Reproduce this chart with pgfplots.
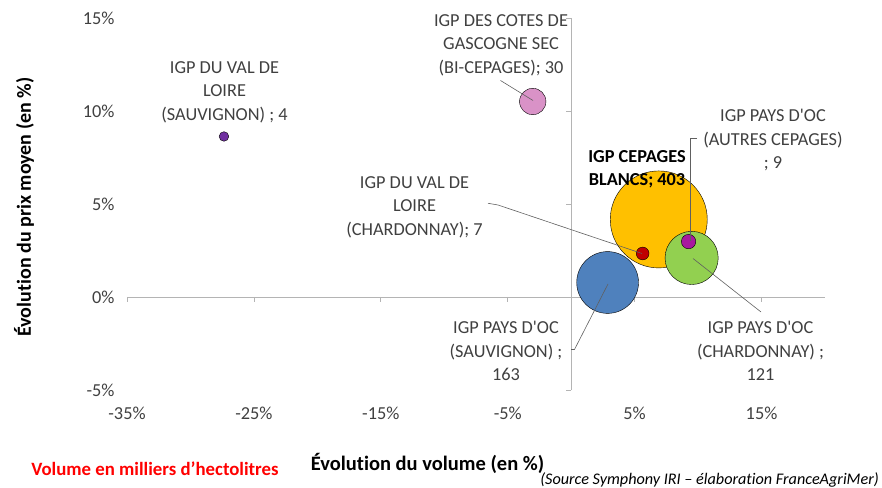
\documentclass[border=0pt]{standalone}
\usepackage{fontspec}
\setmainfont{Carlito}[Ligatures=NoCommon]
\newfontfamily\lblfont{Carlito}[Ligatures=NoCommon]
\usepackage{pgfplots}
\pgfplotsset{compat=1.18}
\definecolor{cOrange}{HTML}{FFC000}
\definecolor{cBlue}{HTML}{4F81BD}
\definecolor{cGreen}{HTML}{92D050}
\definecolor{cMag}{HTML}{A8199E}
\definecolor{cRed}{HTML}{C00000}
\definecolor{cPink}{HTML}{D992C7}
\definecolor{cPurple}{HTML}{7030A0}
\definecolor{axgray}{HTML}{B4B4B4}
\definecolor{txt}{HTML}{404040}
\definecolor{lead}{HTML}{606060}
\newcommand\fs{\fontsize{18.3bp}{23.5bp}\selectfont}
\begin{document}
\begin{tikzpicture}
\begin{axis}[
  scale only axis, width=698bp, height=372bp,
  xmin=-35, xmax=20, ymin=-5, ymax=15,
  axis line style={draw=none},
  major tick length=0pt,
  xtick={-35,-25,-15,-5,5,15},
  xticklabels={{-35\%},{-25\%},{-15\%},{-5\%},{5\%},{15\%}},
  ytick={-5,0,5,10,15},
  yticklabels={{-5\%},{0\%},{5\%},{10\%},{15\%}},
  tick label style={font=\fs, text=txt},
  xticklabel style={yshift=-13.5bp},
  yticklabel style={xshift=-9bp},
  clip=false,
]
\draw[axgray, line width=0.75bp] (axis cs:-35,0) -- (axis cs:20,0);
\draw[axgray, line width=0.75bp] (axis cs:0,-5) -- (axis cs:0,15);
\pgfplotsinvokeforeach{-35,-25,-15,-5,5,15}{\draw[axgray, line width=0.75bp] (axis cs:#1,0) -- ++(0pt,-5bp);}
\pgfplotsinvokeforeach{-5,0,5,10,15}{\draw[axgray, line width=0.75bp] (axis cs:0,#1) -- ++(-5bp,0pt);}
% IGP CEPAGES BLANCS; 403
\addplot[only marks, mark=*, mark size=48.5bp, mark options={draw=none, fill=cOrange}] coordinates {(6.9,4.17)};
% IGP PAYS D'OC (SAUVIGNON); 163
\addplot[only marks, mark=*, mark size=30.9bp, mark options={draw=none, fill=cBlue}] coordinates {(2.87,0.78)};
% IGP PAYS D'OC (CHARDONNAY); 121
\addplot[only marks, mark=*, mark size=26.6bp, mark options={draw=none, fill=cGreen}] coordinates {(9.49,2.10)};
% IGP DES COTES DE GASCOGNE SEC (BI-CEPAGES); 30
\addplot[only marks, mark=*, mark size=13.2bp, mark options={draw=none, fill=cPink}] coordinates {(-3.03,10.51)};
% IGP PAYS D'OC (AUTRES CEPAGES); 9
\addplot[only marks, mark=*, mark size=7.2bp, mark options={draw=none, fill=cMag}] coordinates {(9.25,2.98)};
% IGP DU VAL DE LOIRE (CHARDONNAY); 7
\addplot[only marks, mark=*, mark size=6.4bp, mark options={draw=none, fill=cRed}] coordinates {(5.63,2.34)};
% IGP DU VAL DE LOIRE (SAUVIGNON); 4
\addplot[only marks, mark=*, mark size=4.8bp, mark options={draw=none, fill=cPurple}] coordinates {(-27.36,8.63)};
\end{axis}
\begin{scope}[shift={(current axis.south west)}, shift={(-127bp,390bp)}, x=1bp, y=-1bp]
  % leader lines
  \draw[lead, line width=0.6bp] (500.5,80.5) -- (533,100.5);
  \draw[lead, line width=0.6bp] (488,203.3) -- (498,205) -- (642,253.5);
  \draw[lead, line width=0.6bp] (697,138) -- (690.5,138) -- (690.5,241);
  \draw[lead, line width=0.6bp] (571,349.5) -- (574.5,349.5) -- (608,284);
  \draw[lead, line width=0.6bp] (693,258.5) -- (761,312);
  % data labels
  \node[font=\lblfont\fs, text=txt, align=center, inner sep=0pt] at (501,45) {IGP DES COTES DE\\GASCOGNE SEC\\(BI-CEPAGES); 30};
  \node[font=\lblfont\fs, text=txt, align=center, inner sep=0pt] at (224.5,92) {IGP DU VAL DE\\LOIRE\\(SAUVIGNON) ; 4};
  \node[font=\lblfont\fs, text=txt, align=center, inner sep=0pt] at (414.5,207) {IGP DU VAL DE\\LOIRE\\(CHARDONNAY); 7};
  \node[font=\lblfont\fs\bfseries, text=black, align=center, inner sep=0pt] at (637,169) {IGP CEPAGES\\BLANCS; 403};
  \node[font=\lblfont\fs, text=txt, align=center, inner sep=0pt] at (773,140) {IGP PAYS D'OC\\(AUTRES CEPAGES)\\; 9};
  \node[font=\lblfont\fs, text=txt, align=center, inner sep=0pt] at (506,351) {IGP PAYS D'OC\\(SAUVIGNON) ;\\163};
  \node[font=\lblfont\fs, text=txt, align=center, inner sep=0pt] at (760.5,351) {IGP PAYS D'OC\\(CHARDONNAY) ;\\121};
  % titles
  \node[font=\fontsize{20bp}{24bp}\selectfont\bfseries, text=black, rotate=90, inner sep=0pt] at (24,207) {Évolution du prix moyen (en \%)};
  \node[font=\fontsize{20.5bp}{24bp}\selectfont\bfseries, text=black, inner sep=0pt] at (427.5,463) {Évolution du volume (en \%)};
  \node[font=\fontsize{18.8bp}{22bp}\selectfont\bfseries, text=red, inner sep=0pt] at (155,469) {Volume en milliers d’hectolitres};
  \node[font=\fontsize{16.2bp}{19bp}\selectfont\itshape, text=black, inner sep=0pt, anchor=east] at (879,479.5) {(Source Symphony IRI – élaboration FranceAgriMer)};
  \pgfresetboundingbox
  \path[use as bounding box] (0,0) rectangle (882,488);
\end{scope}
\end{tikzpicture}
\end{document}
